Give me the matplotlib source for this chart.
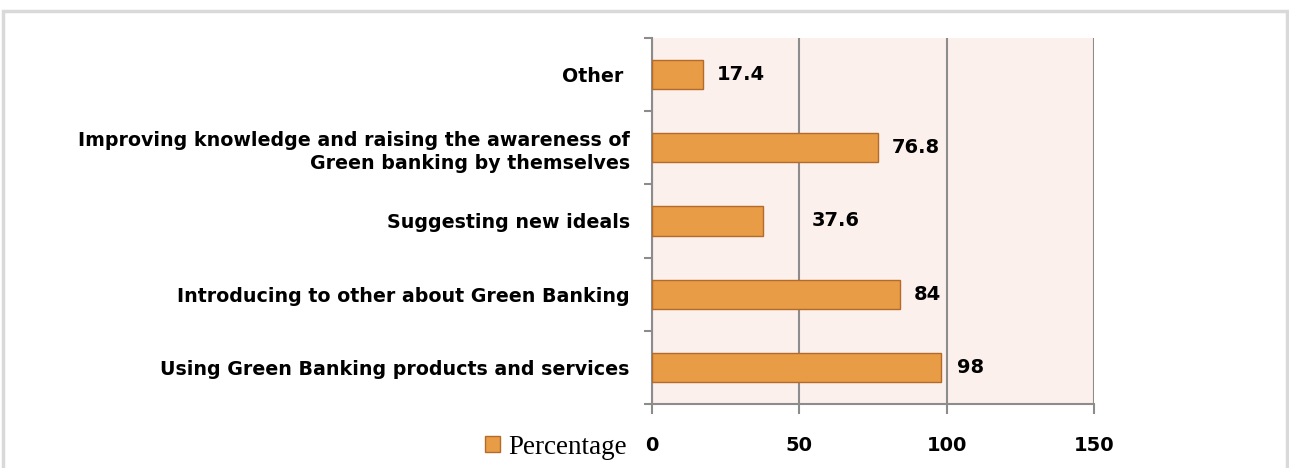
import matplotlib
matplotlib.use("Agg")
import matplotlib.pyplot as plt
from matplotlib.patches import Rectangle, Patch

categories = [
    "Using Green Banking products and services",
    "Introducing to other about Green Banking",
    "Suggesting new ideals",
    "Improving knowledge and raising the awareness of\nGreen banking by themselves",
    "Other ",
]
values = [98, 84, 37.6, 76.8, 17.4]
value_labels = ["98", "84", "37.6", "76.8", "17.4"]
label_offsets_pt = [12, 10, 35, 10, 10]
xticks = [0, 50, 100, 150]
series_name = "Percentage"

fig = plt.figure(figsize=(12.89, 4.68), dpi=100)
W, H = 1289, 468

# outer frame
fig.patches.append(Rectangle((3 / W, -0.1), 1284 / W, 1.1 - 11 / H,
                             transform=fig.transFigure, fill=False,
                             edgecolor="#D9D9D9", linewidth=2.5))

ax = fig.add_axes([652 / W, 1 - 404 / H, (1094 - 652) / W, (404 - 38) / H])
ax.set_facecolor("#FCF0EC")
y = list(range(len(categories)))
ax.barh(y, values, height=0.4, color="#E89C45", edgecolor="#B46A2A", linewidth=1.0, zorder=3)
ax.set_xlim(0, 150)
ax.set_ylim(-0.5, len(categories) - 0.5)

for yi, v, lab, off in zip(y, values, value_labels, label_offsets_pt):
    ax.annotate(lab, (v, yi), xytext=(off, 0), textcoords="offset points",
                va="center", ha="left", fontsize=14, fontweight="bold",
                family="DejaVu Sans", zorder=4)

ax.set_xticks(xticks)
ax.set_xticklabels([str(t) for t in xticks], fontsize=14, fontweight="bold")
ax.tick_params(axis="x", length=7, color="#8C8C8C", width=1.5, pad=16)
ax.xaxis.grid(True, color="#8C8C8C", linewidth=1.5, zorder=1)

ax.set_yticks([i - 0.5 for i in range(len(categories) + 1)], minor=False)
ax.set_yticklabels([])
ax.tick_params(axis="y", length=6, color="#8C8C8C", width=1.5)
ax.set_yticks(y, minor=True)
ax.set_yticklabels(categories, minor=True, fontsize=13.7, fontweight="bold")
ax.tick_params(axis="y", which="minor", length=0, pad=16)
for lbl in ax.get_yticklabels(minor=True):
    lbl.set_multialignment("right")
    lbl.set_linespacing(1.25)

for s in ["top", "right"]:
    ax.spines[s].set_visible(False)
for s in ["left", "bottom"]:
    ax.spines[s].set_color("#8C8C8C")
    ax.spines[s].set_linewidth(1.5)

handle = Patch(facecolor="#E89C45", edgecolor="#B46A2A")
fig.legend([handle], [series_name], loc="center", bbox_to_anchor=(556 / W, 1 - 447 / H),
           frameon=False, prop={"family": "Liberation Serif", "size": 19.5},
           handlelength=0.55, handleheight=0.55, handletextpad=0.3)

fig.savefig("out.png", dpi=100)
